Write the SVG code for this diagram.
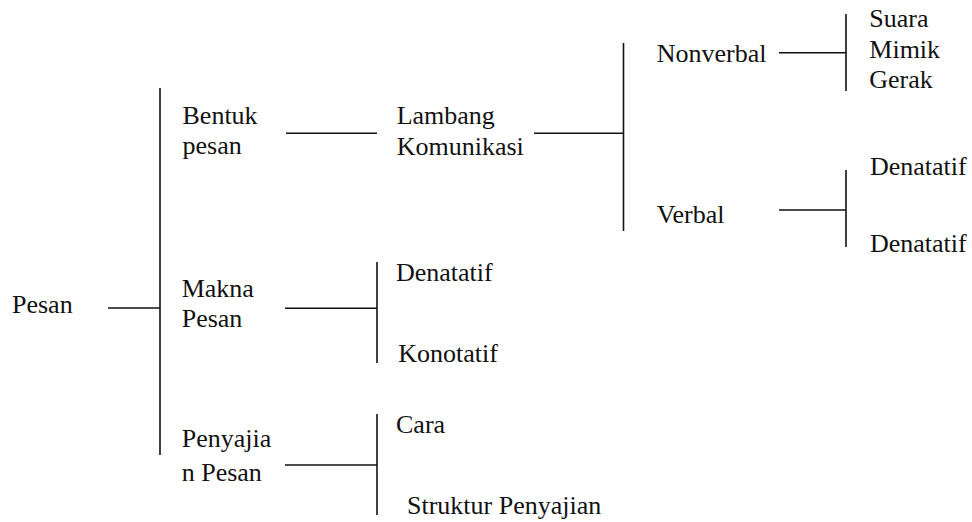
<svg xmlns="http://www.w3.org/2000/svg" width="972" height="522" viewBox="0 0 972 522">
  <style>
    .ln { stroke: #111; stroke-width: 1.6; fill: none; }
    .t { font-family: 'Liberation Serif', 'Times New Roman', serif; font-size: 26px; fill: #111; }
  </style>
  <rect width="972" height="522" fill="#fff"/>

  <!-- tree branches -->
  <g id="connectors">
    <line class="ln" x1="108" y1="308" x2="160" y2="308"/>
    <line class="ln" x1="160" y1="88" x2="160" y2="455"/>

    <line class="ln" x1="286" y1="133.3" x2="377" y2="133.3"/>
    <line class="ln" x1="534" y1="133.3" x2="623.5" y2="133.3"/>
    <line class="ln" x1="623.5" y1="43" x2="623.5" y2="231"/>

    <line class="ln" x1="779" y1="52.7" x2="846" y2="52.7"/>
    <line class="ln" x1="846" y1="14" x2="846" y2="91"/>
    <line class="ln" x1="779" y1="210" x2="846" y2="210"/>
    <line class="ln" x1="846" y1="170" x2="846" y2="247"/>

    <line class="ln" x1="285" y1="308.3" x2="377" y2="308.3"/>
    <line class="ln" x1="377" y1="262" x2="377" y2="363"/>
    <line class="ln" x1="285" y1="465" x2="377" y2="465"/>
    <line class="ln" x1="377" y1="414" x2="377" y2="515"/>
  </g>

  <!-- labels -->
  <g id="pesan"><text class="t" x="12" y="313">Pesan</text></g>

  <g id="bentuk-pesan">
    <text class="t" x="182.5" y="124.3">Bentuk</text>
    <text class="t" x="182.5" y="154.3">pesan</text>
  </g>
  <g id="makna-pesan">
    <text class="t" x="181.7" y="297">Makna</text>
    <text class="t" x="181.7" y="327">Pesan</text>
  </g>
  <g id="penyajian-pesan">
    <text class="t" x="181.7" y="447.3">Penyajia</text>
    <text class="t" x="181.7" y="481">n Pesan</text>
  </g>

  <g id="lambang-komunikasi">
    <text class="t" x="396.7" y="124.3">Lambang</text>
    <text class="t" x="396.7" y="155">Komunikasi</text>
  </g>

  <g id="nonverbal"><text class="t" x="656.7" y="62.3">Nonverbal</text></g>
  <g id="verbal"><text class="t" x="656.7" y="223.3">Verbal</text></g>

  <g id="nonverbal-items">
    <text class="t" x="869.3" y="26.7">Suara</text>
    <text class="t" x="869.3" y="58.3">Mimik</text>
    <text class="t" x="869.3" y="88.3">Gerak</text>
  </g>
  <g id="verbal-denatatif-1"><text class="t" x="870" y="175">Denatatif</text></g>
  <g id="verbal-denatatif-2"><text class="t" x="870" y="251.7">Denatatif</text></g>

  <g id="makna-denatatif"><text class="t" x="396" y="280.7">Denatatif</text></g>
  <g id="makna-konotatif"><text class="t" x="398.3" y="361.7">Konotatif</text></g>

  <g id="penyajian-cara"><text class="t" x="396" y="433.3">Cara</text></g>
  <g id="penyajian-struktur"><text class="t" x="407" y="514">Struktur Penyajian</text></g>
</svg>
